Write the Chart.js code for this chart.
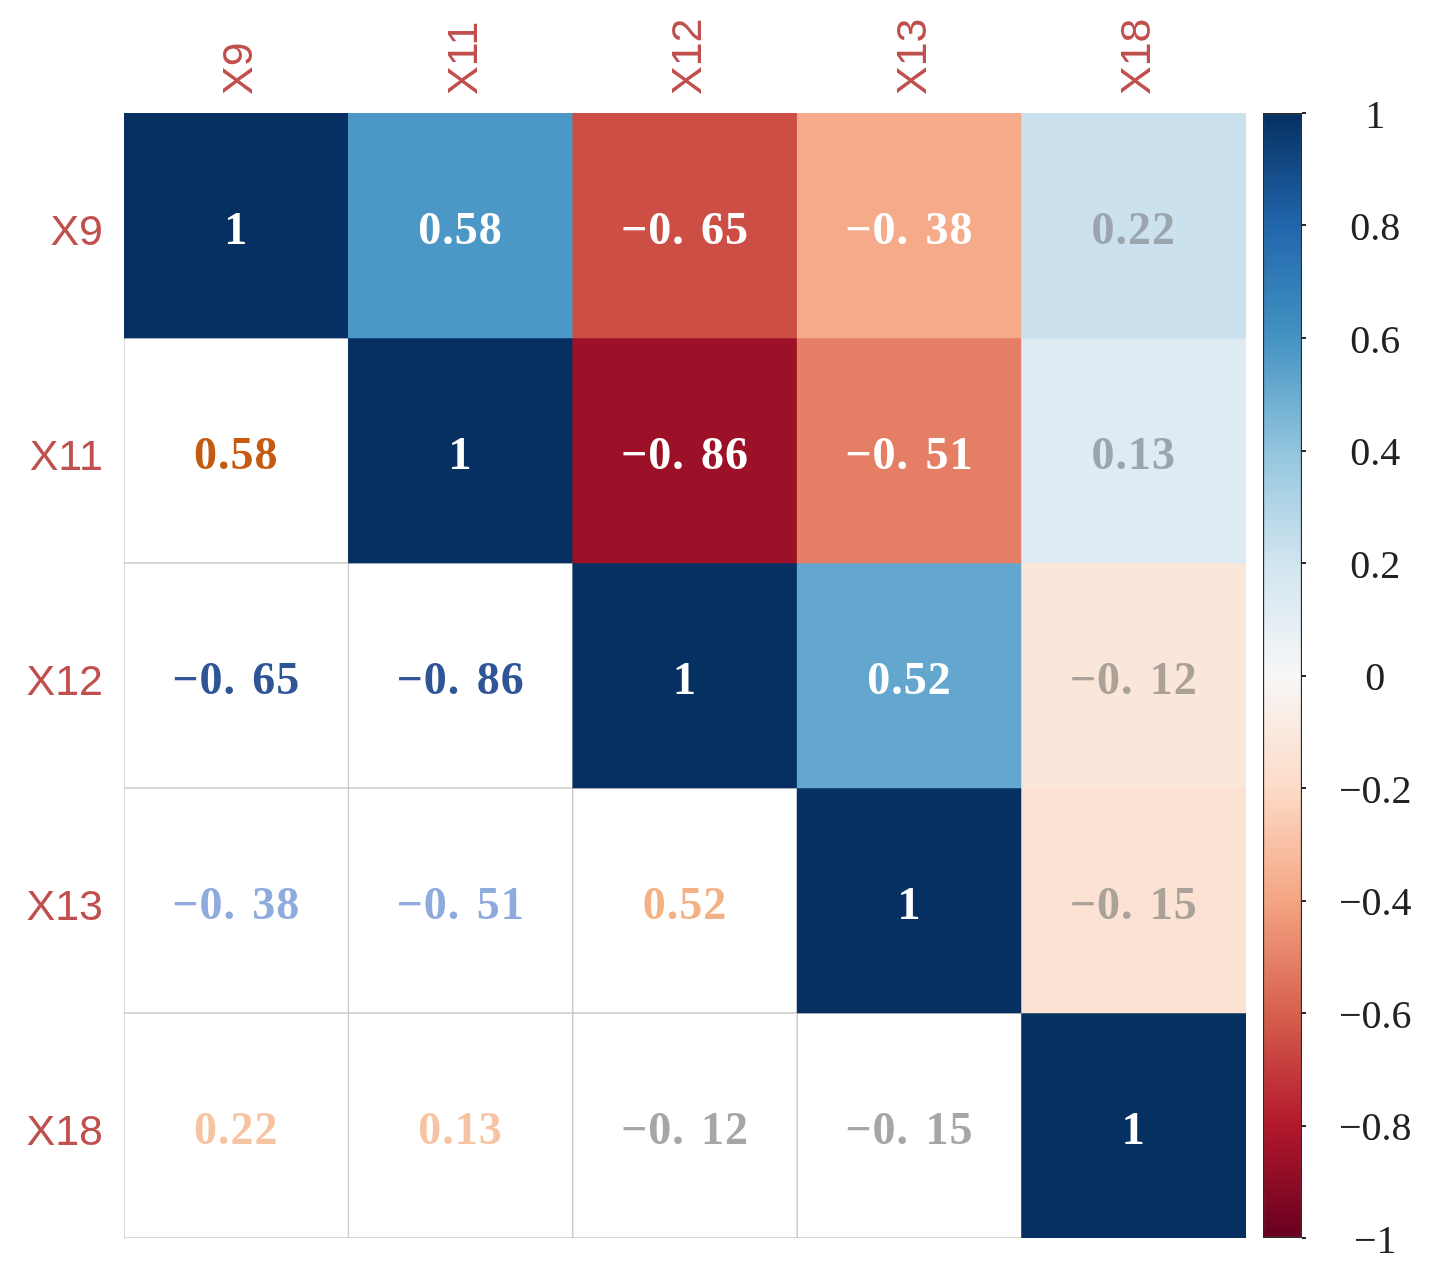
<!DOCTYPE html>
<html>
<head>
<meta charset="utf-8">
<title>Correlation matrix</title>
<script src="https://cdn.jsdelivr.net/npm/chart.js@4.4.1/dist/chart.umd.min.js"></script>
<style>
  html, body { margin: 0; padding: 0; background: #ffffff; }
  #wrap { position: relative; width: 1431px; height: 1265px; }
  #heatCanvas { position: absolute; left: 0; top: 0; }
  #barCanvas { position: absolute; left: 1250px; top: 0; }
</style>
</head>
<body>
<div id="wrap">
  <canvas id="heatCanvas" width="1250" height="1265"></canvas>
  <canvas id="barCanvas" width="181" height="1265"></canvas>
</div>
<script>
// variables (rows and columns of the matrix)
const variables = ['X9', 'X11', 'X12', 'X13', 'X18'];

// correlation values, one row per variable
const rowX9  = [1, 0.58, -0.65, -0.38, 0.22];
const rowX11 = [0.58, 1, -0.86, -0.51, 0.13];
const rowX12 = [-0.65, -0.86, 1, 0.52, -0.12];
const rowX13 = [-0.38, -0.51, 0.52, 1, -0.15];
const rowX18 = [0.22, 0.13, -0.12, -0.15, 1];

// colorbar ticks
const barTicks = [1, 0.8, 0.6, 0.4, 0.2, 0, -0.2, -0.4, -0.6, -0.8, -1];

const rows = [rowX9, rowX11, rowX12, rowX13, rowX18];

// RdBu colormap, from -1 to 1
const rdbuStops = ['#67001f', '#b2182b', '#d6604d', '#f4a582', '#fddbc7', '#f7f7f7',
                   '#d1e5f0', '#92c5de', '#4393c3', '#2166ac', '#053061'];

function hexToRgb(h) {
  return [parseInt(h.slice(1, 3), 16), parseInt(h.slice(3, 5), 16), parseInt(h.slice(5, 7), 16)];
}

function rdbu(v) {
  const t = (v + 1) / 2 * (rdbuStops.length - 1);
  const i = Math.min(Math.floor(t), rdbuStops.length - 2);
  const f = t - i;
  const a = hexToRgb(rdbuStops[i]);
  const b = hexToRgb(rdbuStops[i + 1]);
  const c = a.map((x, k) => Math.round(x + (b[k] - x) * f));
  return `rgb(${c[0]}, ${c[1]}, ${c[2]})`;
}

function fmtCell(v) {
  if (v === 1) return '1';
  if (v < 0) {
    const s = Math.abs(v).toFixed(2);
    return '\u22120.\u2004' + s.slice(2);
  }
  return v.toFixed(2);
}

function upperTextColor(v) {
  if (Math.abs(v) >= 0.3) return '#ffffff';
  return v > 0 ? '#9ba5ae' : '#aaa299';
}

function lowerTextColor(v) {
  if (v > 0.55) return '#c55a11';
  if (v > 0.3) return '#f4b183';
  if (v > 0) return '#f6c4a2';
  if (v < -0.6) return '#2f5597';
  if (v < -0.3) return '#8faadc';
  return '#a6a6a6';
}

const labelColor = '#c0504d';
const labelFont = { family: '"Liberation Sans", Arial, sans-serif', size: 43 };

// cell values written in the middle of each bar
const cellText = {
  id: 'cellText',
  afterDatasetsDraw(chart) {
    const ctx = chart.ctx;
    ctx.save();
    ctx.font = 'bold 46px "Liberation Serif", serif';
    ctx.textAlign = 'center';
    ctx.textBaseline = 'middle';
    if ('letterSpacing' in ctx) ctx.letterSpacing = '1px';
    rows.forEach((vals, r) => {
      chart.getDatasetMeta(r).data.forEach((bar, c) => {
        const v = vals[c];
        ctx.fillStyle = c >= r ? upperTextColor(v) : lowerTextColor(v);
        ctx.fillText(fmtCell(v), bar.x, (bar.y + bar.base) / 2 + 7);
      });
    });
    ctx.restore();
  }
};

const heatDatasets = rows.map((vals, r) => ({
  label: variables[r],
  data: vals.map(() => [r, r + 1]),
  backgroundColor: vals.map((v, c) => c >= r ? rdbu(v) : '#ffffff'),
  borderColor: vals.map((v, c) => c >= r ? 'rgba(0,0,0,0)' : '#c8c8c8'),
  borderWidth: vals.map((v, c) => c >= r ? 0 : 1),
  borderSkipped: false,
  grouped: false,
  barPercentage: 1,
  categoryPercentage: 1
}));

new Chart(document.getElementById('heatCanvas'), {
  type: 'bar',
  data: { labels: variables, datasets: heatDatasets },
  plugins: [cellText],
  options: {
    responsive: false,
    animation: false,
    layout: { padding: { top: 0, right: 4, bottom: 27, left: 0 } },
    plugins: { legend: { display: false }, tooltip: { enabled: false } },
    scales: {
      x: {
        position: 'top',
        grid: { display: false, drawTicks: false },
        border: { display: false },
        ticks: {
          color: labelColor,
          font: labelFont,
          minRotation: 90,
          maxRotation: 90,
          padding: 18,
          labelOffset: 56
        },
        afterFit: s => { s.height = 113; }
      },
      y: {
        type: 'linear',
        min: 0,
        max: 5,
        reverse: true,
        grid: { display: false, drawTicks: false },
        border: { display: false },
        afterBuildTicks: s => { s.ticks = variables.map((_, i) => ({ value: i + 0.5 })); },
        ticks: {
          callback: (v, i) => variables[i],
          color: labelColor,
          font: labelFont,
          padding: 21,
          labelOffset: 8
        },
        afterFit: s => { s.width = 124; s.paddingTop = 0; s.paddingBottom = 0; }
      }
    }
  }
});

function fmtTick(v) {
  const r = Math.round(v * 10) / 10;
  if (r === 0) return '0';
  const s = Math.abs(r) === 1 ? '1' : Math.abs(r).toFixed(1);
  return r < 0 ? '\u2212' + s : s;
}

new Chart(document.getElementById('barCanvas'), {
  type: 'bar',
  data: {
    labels: [''],
    datasets: [{
      data: [[-1, 1]],
      backgroundColor(context) {
        const chart = context.chart;
        const yScale = chart.scales.y;
        if (!chart.chartArea || !yScale) return '#f7f7f7';
        const g = chart.ctx.createLinearGradient(0, yScale.getPixelForValue(-1), 0, yScale.getPixelForValue(1));
        rdbuStops.forEach((c, i) => g.addColorStop(i / (rdbuStops.length - 1), c));
        return g;
      },
      borderColor: '#2a2a2a',
      borderWidth: 1.5,
      borderSkipped: false,
      barPercentage: 1,
      categoryPercentage: 1
    }]
  },
  options: {
    responsive: false,
    animation: false,
    layout: { padding: { top: 113, right: 0, bottom: 27, left: 13 } },
    plugins: { legend: { display: false }, tooltip: { enabled: false } },
    scales: {
      x: { display: false },
      y: {
        position: 'right',
        min: -1,
        max: 1,
        afterBuildTicks: s => { s.ticks = barTicks.map(v => ({ value: v })); },
        grid: { drawOnChartArea: false, drawTicks: true, tickLength: 4, color: '#2a2a2a', lineWidth: 2 },
        border: { display: false },
        ticks: {
          callback: v => fmtTick(v),
          color: '#222222',
          font: { family: '"Liberation Serif", serif', size: 40 },
          padding: 33,
          crossAlign: 'center',
          labelOffset: 4
        },
        afterFit: s => { s.width = 129; s.paddingTop = 0; s.paddingBottom = 0; }
      }
    }
  }
});
</script>
</body>
</html>
